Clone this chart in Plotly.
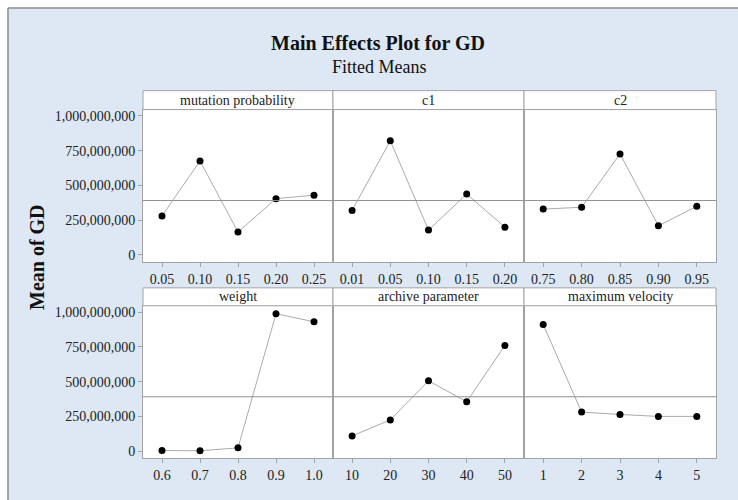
import plotly.graph_objects as go
import numpy as np

# Factor names and their levels
factors = ["mutation probability", "c1", "c2", "weight", "archive parameter", "maximum velocity"]
mutation_levels = ["0.05", "0.10", "0.15", "0.20", "0.25"]
c1_levels = ["0.01", "0.05", "0.10", "0.15", "0.20"]
c2_levels = ["0.75", "0.80", "0.85", "0.90", "0.95"]
weight_levels = ["0.6", "0.7", "0.8", "0.9", "1.0"]
archive_levels = ["10", "20", "30", "40", "50"]
velocity_levels = ["1", "2", "3", "4", "5"]

# Fitted means of GD for each level
mutation_means = [280e6, 676e6, 165e6, 405e6, 430e6]
c1_means = [320e6, 821e6, 179e6, 438e6, 200e6]
c2_means = [330e6, 343e6, 726e6, 210e6, 350e6]
weight_means = [5e6, 3e6, 24e6, 988e6, 930e6]
archive_means = [110e6, 225e6, 506e6, 355e6, 760e6]
velocity_means = [911e6, 281e6, 264e6, 250e6, 250e6]

y_tickvals = [0, 250e6, 500e6, 750e6, 1000e6]

levels = [mutation_levels, c1_levels, c2_levels, weight_levels, archive_levels, velocity_levels]
means = [mutation_means, c1_means, c2_means, weight_means, archive_means, velocity_means]
grand_mean = float(np.mean([np.mean(m) for m in means]))

W, H = 738, 500
SERIF = "Liberation Serif"
GRID = "#a3a3a3"
BLUE = "#dde8f4"

def px_x(v):
    return v / W

def px_y(v):
    return 1 - v / H

col_edges = [(143, 333), (333, 524), (524, 716)]
row_plot = [(109, 262), (306, 459)]   # plot area top/bottom in px
row_head = [(90, 109), (288, 306)]    # header strip top/bottom in px

fig = go.Figure()
layout = dict(
    width=W, height=H,
    margin=dict(l=0, r=0, t=0, b=0),
    paper_bgcolor=BLUE,
    plot_bgcolor="white",
    showlegend=False,
    font=dict(family=SERIF, size=14, color="#222222"),
)

shapes = [
    # white strips outside the blue frame, with its grey top/left edge
    dict(type="rect", xref="paper", yref="paper", x0=-0.01, x1=1.01, y0=px_y(7), y1=1.01,
         fillcolor="white", line=dict(width=0)),
    dict(type="rect", xref="paper", yref="paper", x0=-0.01, x1=px_x(8), y0=-0.01, y1=1.01,
         fillcolor="white", line=dict(width=0)),
    dict(type="line", xref="paper", yref="paper", x0=px_x(8), x1=1.01, y0=px_y(7), y1=px_y(7),
         line=dict(color="#8c8c8c", width=1.5)),
    dict(type="line", xref="paper", yref="paper", x0=px_x(8), x1=px_x(8), y0=-0.01, y1=px_y(7),
         line=dict(color="#8c8c8c", width=1.5)),
]
annotations = [
    dict(text="<b>Main Effects Plot for GD</b>", x=px_x(378), y=px_y(42), xref="paper", yref="paper",
         showarrow=False, font=dict(family=SERIF, size=20, color="#111111"), xanchor="center", yanchor="middle"),
    dict(text="Fitted Means", x=px_x(379), y=px_y(66), xref="paper", yref="paper",
         showarrow=False, font=dict(family=SERIF, size=18, color="#111111"), xanchor="center", yanchor="middle"),
    dict(text="<b>Mean of GD</b>", x=px_x(37), y=px_y(257), xref="paper", yref="paper", textangle=-90,
         showarrow=False, font=dict(family=SERIF, size=20, color="#111111"), xanchor="center", yanchor="middle"),
]

for i, (name, lv, mv) in enumerate(zip(factors, levels, means)):
    r, c = divmod(i, 3)
    n = i + 1
    xa = "x" if n == 1 else f"x{n}"
    ya = "y" if n == 1 else f"y{n}"
    x0, x1 = col_edges[c]
    ptop, pbot = row_plot[r]
    htop, hbot = row_head[r]

    fig.add_trace(go.Scatter(
        x=lv, y=mv, xaxis=xa, yaxis=ya, mode="lines+markers",
        line=dict(color="#ababab", width=1),
        marker=dict(color="black", size=7),
        hoverinfo="x+y",
    ))

    layout["xaxis" if n == 1 else f"xaxis{n}"] = dict(
        domain=[px_x(x0), px_x(x1)], anchor=ya, type="category",
        range=[-0.5, len(lv) - 0.5], showgrid=False, zeroline=False,
        showline=True, linecolor=GRID, linewidth=1, mirror=True,
        ticks="outside", ticklen=4, tickcolor=GRID,
        tickfont=dict(family=SERIF, size=14, color="#222222"),
    )
    layout["yaxis" if n == 1 else f"yaxis{n}"] = dict(
        domain=[px_y(pbot), px_y(ptop)], anchor=xa,
        range=[-50e6, 1045e6], showgrid=False, zeroline=False,
        showline=True, linecolor=GRID, linewidth=1, mirror=True,
        tickvals=y_tickvals, tickformat=",d",
        ticks="outside" if c == 0 else "", ticklen=4, tickcolor=GRID,
        showticklabels=(c == 0),
        tickfont=dict(family=SERIF, size=14, color="#222222"),
    )

    # white panel background
    shapes.append(dict(type="rect", xref="paper", yref="paper", layer="below",
                       x0=px_x(x0), x1=px_x(x1), y0=px_y(pbot), y1=px_y(ptop),
                       fillcolor="white", line=dict(width=0)))
    # grand mean reference line
    shapes.append(dict(type="line", xref=f"{xa} domain", yref=ya, x0=0, x1=1,
                       y0=grand_mean, y1=grand_mean, line=dict(color="#8f8f8f", width=1)))
    # header strip
    shapes.append(dict(type="rect", xref="paper", yref="paper",
                       x0=px_x(x0), x1=px_x(x1), y0=px_y(hbot), y1=px_y(htop),
                       fillcolor="white", line=dict(color=GRID, width=1)))
    annotations.append(dict(text=name, x=px_x((x0 + x1) / 2), y=px_y((htop + hbot) / 2),
                            xref="paper", yref="paper", showarrow=False,
                            font=dict(family=SERIF, size=14, color="#222222"),
                            xanchor="center", yanchor="middle"))

layout["shapes"] = shapes
layout["annotations"] = annotations
fig.update_layout(**layout)
fig.write_html("out.html")
